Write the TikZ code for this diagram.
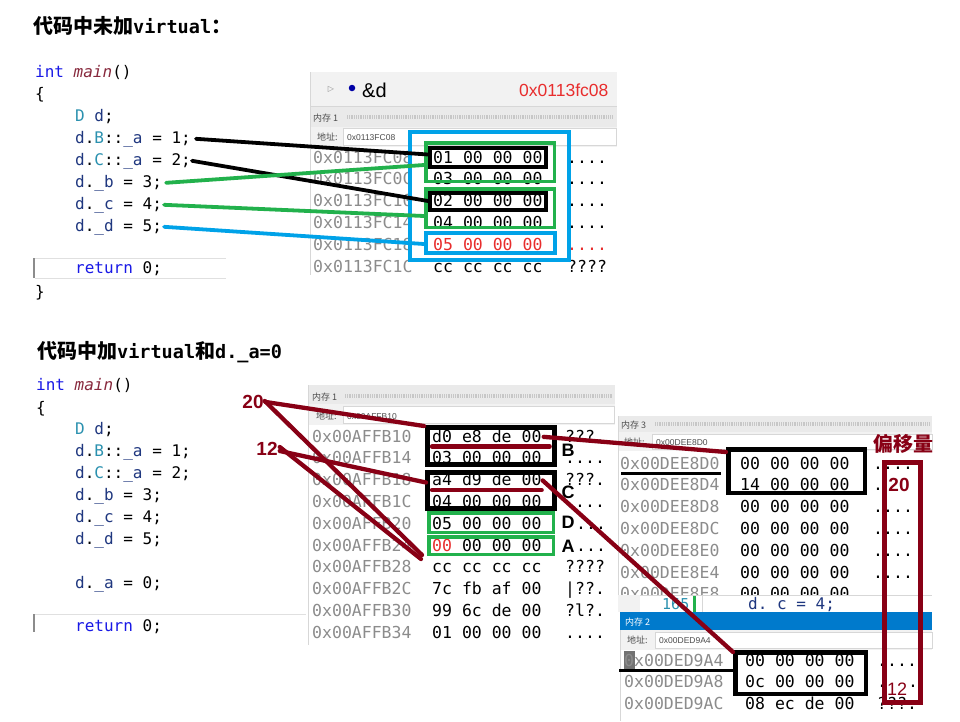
\documentclass[tikz,border=0pt]{standalone}
\usepackage{fontspec}
\setmainfont{Liberation Sans}
\setmonofont{DejaVu Sans Mono}
\newfontfamily\cjk{Noto Sans CJK SC}
\newfontfamily\symf{DejaVu Sans}
\usetikzlibrary{calc}
\definecolor{kw}{RGB}{25,25,230}
\definecolor{fn}{RGB}{135,40,60}
\definecolor{ty}{RGB}{43,145,175}
\definecolor{vr}{RGB}{31,55,127}
\definecolor{addr}{RGB}{140,140,140}
\definecolor{dred}{RGB}{136,0,21}
\definecolor{lgreen}{RGB}{34,177,76}
\definecolor{lblue}{RGB}{0,162,232}
\definecolor{memred}{RGB}{232,45,45}
\definecolor{titleblue}{RGB}{0,122,204}
\definecolor{panelgray}{RGB}{242,242,242}
\definecolor{bordergray}{RGB}{215,215,215}
\newcommand\cV[1]{\textcolor{vr}{#1}}
\newcommand\cT[1]{\textcolor{ty}{#1}}
\newcommand\cK[1]{\textcolor{kw}{#1}}
\newcommand\cF[1]{\textcolor{fn}{\itshape #1}}
\newcommand\redzero{\textcolor{memred}{00}}
\newcommand\qd{.{}.{}.{}.}
\newcommand\td{.{}.{}.}
\newcommand\hdmono{\ttfamily\bfseries\fontsize{18.5}{20}\selectfont}
\tikzset{
  heading/.style={anchor=base west, inner sep=0pt, font=\cjk\bfseries\fontsize{20}{20}\selectfont},
  code/.style={anchor=base west, inner sep=0pt, font=\ttfamily\fontsize{16}{16}\selectfont},
  memtxt/.style={anchor=base west, inner sep=0pt, font=\ttfamily\fontsize{16.5}{16.5}\selectfont},
  addrtxt/.style={memtxt, text=addr},
  uitxt/.style={anchor=base west, inner sep=0pt, font=\cjk\fontsize{9}{9}\selectfont, text=black!70},
  inputtxt/.style={anchor=base west, inner sep=0pt, font=\fontsize{8.5}{9}\selectfont, text=black!70},
  uibox/.style={draw=bordergray, fill=white, line width=0.6pt},
  hatch/.style={black!22, line width=4pt, dash pattern=on 0.6pt off 1.2pt},
  kbox/.style={draw=black, line width=4pt, inner sep=0pt},
  kboxthick/.style={draw=black, line width=5pt, inner sep=0pt},
  gbox/.style={draw=lgreen, line width=3.5pt, inner sep=0pt},
  bbox/.style={draw=lblue, line width=4pt, inner sep=0pt},
  rbox/.style={draw=dred, line width=5pt, inner sep=0pt},
  conn/.style={line width=3.8pt, line cap=round},
  rconn/.style={dred, line width=4.3pt, line cap=round},
  letter/.style={inner sep=0pt, font=\bfseries\fontsize{18}{18}\selectfont},
  rlabel/.style={inner sep=0pt, text=dred, font=\bfseries\fontsize{19}{19}\selectfont},
}
\begin{document}
\begin{tikzpicture}[x=1pt,y=-1pt]
\useasboundingbox (0,0) rectangle (960,721);
\fill[white] (0,0) rectangle (960,721);

% ---------------- top heading and code ----------------
\node[heading] (h1) at (33,33) {代码中未加{\hdmono virtual}：};
\draw[black!12, line width=0.8pt] (35,258) -- (226,258) (35,278.5) -- (226,278.5);
\draw[black!45, line width=1.6pt] (34,258) -- (34,278);
\node[code] (t0) at (35,77) {\cK{int} \cF{main}()};
\node[code] (t1) at (35,99) {\{};
\node[code] (t2) at (75,121) {\cT{D} \cV{d};};
\node[code] (t3) at (75,143) {\cV{d}.\cT{B}::\cV{\_a} = 1;};
\node[code] (t4) at (75,165) {\cV{d}.\cT{C}::\cV{\_a} = 2;};
\node[code] (t5) at (75,187) {\cV{d}.\cV{\_b} = 3;};
\node[code] (t6) at (75,209) {\cV{d}.\cV{\_c} = 4;};
\node[code] (t7) at (75,231) {\cV{d}.\cV{\_d} = 5;};
\node[code] (t8) at (75,273) {\cK{return} 0;};
\node[code] (t9) at (35,297) {\}};

% ---------------- top memory panel ----------------
\fill[white] (310,72) rectangle (617,275);
\fill[panelgray] (310,72) rectangle (617,106);
\draw[bordergray, line width=0.6pt] (310,106) -- (617,106);
\fill[panelgray!70!bordergray] (310,107) rectangle (617,127);
\fill[panelgray] (310,127) rectangle (617,147);
\draw[bordergray, line width=0.8pt] (310,72) -- (310,275);
\node[text=black!45, inner sep=0pt, font=\symf\fontsize{8}{8}\selectfont] (tri) at (331,89) {▷};
\node[circle, fill=blue!65!black, minimum size=6.5pt, inner sep=0pt] (dot) at (352,88) {};
\node[anchor=base west, inner sep=0pt, font=\fontsize{20}{20}\selectfont] (amp) at (362,97) {\&d};
\node[anchor=base west, inner sep=0pt, text=memred, font=\fontsize{17.5}{18}\selectfont] (dval) at (519,96) {0x0113fc08};
\node[uitxt] (m1t) at (313,121.5) {内存 1};
\draw[hatch] (347,117) -- (612,117);
\node[uitxt] (m1a) at (317,140) {地址:};
\draw[uibox] (343,128.5) rectangle (616,145.5);
\node[inputtxt] (m1v) at (347,140) {0x0113FC08};
\foreach \a/\b/\c/\col [count=\i from 0] in {
  0x0113FC08/01 00 00 00/\qd/black,
  0x0113FC0C/03 00 00 00/\qd/black,
  0x0113FC10/02 00 00 00/\qd/black,
  0x0113FC14/04 00 00 00/\qd/black,
  0x0113FC18/05 00 00 00/\qd/memred,
  0x0113FC1C/cc cc cc cc/????/black}{
  \node[addrtxt] (ta\i) at (313,163+21.9*\i) {\a};
  \node[memtxt, text=\col] (tb\i) at (433,163+21.9*\i) {\b};
  \node[memtxt, text=\col] (tc\i) at (567,163+21.9*\i) {\c};
}
% boxes top
\node[bbox, minimum width=159pt, minimum height=128pt] (bbig) at (489.5,196) {};
\node[gbox, minimum width=128.5pt, minimum height=38.5pt] (gb1) at (490,162) {};
\node[gbox, minimum width=128.5pt, minimum height=38.5pt] (gb2) at (490,208) {};
\node[kbox, minimum width=116pt, minimum height=19pt] (bk1) at (488,157.5) {};
\node[kbox, minimum width=116pt, minimum height=17pt] (bk2) at (488,201) {};
\node[bbox, minimum width=129pt, minimum height=20pt] (bsm) at (490.5,243) {};
% connectors top
\draw[conn, black] ([xshift=5pt]t3.east) -- ([yshift=3pt]bk1.west);
\draw[conn, black] ([xshift=1pt]t4.east) -- (bk2.west);
\draw[conn, lgreen] ([xshift=4pt]t5.east) -- ([yshift=-3pt]gb1.west);
\draw[conn, lgreen] ([xshift=2pt]t6.east) -- ([yshift=-8pt]gb2.west);
\draw[conn, lblue] ([xshift=2pt]t7.east) -- ([yshift=-1pt]bsm.west);

% ---------------- bottom heading and code ----------------
\node[heading] (h2) at (37,358) {代码中加{\hdmono virtual}和{\hdmono d.\_a=0}};
\draw[black!12, line width=0.8pt] (35,614) -- (306,614);
\draw[black!45, line width=1.6pt] (34,614) -- (34,632);
\node[code] (b0) at (36,390) {\cK{int} \cF{main}()};
\node[code] (b1) at (36,413) {\{};
\node[code] (b2) at (75,434) {\cT{D} \cV{d};};
\node[code] (b3) at (75,456) {\cV{d}.\cT{B}::\cV{\_a} = 1;};
\node[code] (b4) at (75,478) {\cV{d}.\cT{C}::\cV{\_a} = 2;};
\node[code] (b5) at (75,500) {\cV{d}.\cV{\_b} = 3;};
\node[code] (b6) at (75,522) {\cV{d}.\cV{\_c} = 4;};
\node[code] (b7) at (75,544) {\cV{d}.\cV{\_d} = 5;};
\node[code] (b8) at (75,588) {\cV{d}.\cV{\_a} = 0;};
\node[code] (b9) at (75,631) {\cK{return} 0;};

% ---------------- bottom memory panel 1 ----------------
\fill[white] (308,385) rectangle (615,645);
\fill[panelgray!70!bordergray] (308,385) rectangle (615,404);
\fill[panelgray] (308,404) rectangle (615,425);
\draw[bordergray, line width=0.8pt] (308,385) -- (308,645);
\node[uitxt] (n1t) at (312,400) {内存 1};
\draw[hatch] (345,396) -- (612,396);
\node[uitxt] (n1a) at (316,419) {地址:};
\draw[uibox] (343,406) rectangle (614,423);
\node[inputtxt] (n1v) at (347,419) {0x00AFFB10};
\foreach \a/\b/\c/\cx [count=\i from 0] in {
  0x00AFFB10/d0 e8 de 00/???./565,
  0x00AFFB14/03 00 00 00/\qd/565,
  0x00AFFB18/a4 d9 de 00/???./565,
  0x00AFFB1C/04 00 00 00/\qd/565,
  0x00AFFB20/05 00 00 00/\td/576,
  0x00AFFB24/\redzero{} 00 00 00/\td/576,
  0x00AFFB28/cc cc cc cc/????/565,
  0x00AFFB2C/7c fb af 00/|??./565,
  0x00AFFB30/99 6c de 00/?l?./565,
  0x00AFFB34/01 00 00 00/\qd/565}{
  \node[addrtxt] (ma\i) at (312,442+21.8*\i) {\a};
  \node[memtxt] (mb\i) at (432,442+21.8*\i) {\b};
  \node[memtxt] (mc\i) at (\cx,442+21.8*\i) {\c};
}
\node[kboxthick, minimum width=127pt, minimum height=37pt] (boxB) at (491,446) {};
\node[kboxthick, minimum width=127pt, minimum height=36pt] (boxC) at (491,490.5) {};
\node[gbox, minimum width=124.5pt, minimum height=19.5pt] (gD) at (491,522.5) {};
\node[gbox, minimum width=124.5pt, minimum height=17.5pt] (gA) at (491,545.5) {};
\node[letter] (lB) at (568,450.5) {B};
\node[letter] (lC) at (568,492) {C};
\node[letter] (lD) at (568,522) {D};
\node[letter] (lA) at (568,546) {A};
\draw[rconn] ($(mb0.base west)+(0,4.5)$) -- ($(mb0.base east)+(8,4.5)$);
\draw[rconn] ($(mb2.base west)+(0,4.5)$) -- ($(mb2.base east)+(0,4.5)$);

% ---------------- memory panel 3 ----------------
\fill[white] (618,416) rectangle (932,597);
\fill[panelgray!70!bordergray] (618,416) rectangle (932,432);
\fill[panelgray] (618,432) rectangle (932,451);
\draw[bordergray, line width=0.8pt] (618,416) -- (618,597);
\node[uitxt] (p3t) at (621,428) {内存 3};
\draw[hatch] (655,424) -- (930,424);
\node[uitxt] (p3a) at (624,445) {地址:};
\draw[uibox] (652,434) rectangle (932,449);
\node[inputtxt] (p3v) at (656,445) {0x00DEE8D0};
\begin{scope}
\clip (618,451) rectangle (932,595);
\foreach \a/\b/\c [count=\i from 0] in {
  0x00DEE8D0/00 00 00 00/\qd, 0x00DEE8D4/14 00 00 00/., 0x00DEE8D8/00 00 00 00/\qd,
  0x00DEE8DC/00 00 00 00/\qd, 0x00DEE8E0/00 00 00 00/\qd, 0x00DEE8E4/00 00 00 00/\qd,
  0x00DEE8E8/00 00 00 00/\qd}{
  \node[addrtxt] (ea\i) at (620,469+21.8*\i) {\a};
  \node[memtxt] (eb\i) at (740,469+21.8*\i) {\b};
  \node[memtxt] (ec\i) at (873,469+21.8*\i) {\c};
}
\end{scope}
\draw[black, line width=3pt] (621,473.5) -- (721,473.5);
\node[draw=black, line width=4.5pt, inner sep=0pt, minimum width=136.5pt, minimum height=43.5pt] (bx3) at (796.5,471) {};

% ---------------- editor strip ----------------
\begin{scope}
\clip (618,595) rectangle (932,612);
\fill[white] (618,595) rectangle (932,612);
\draw[bordergray, line width=0.8pt] (618,595.5) -- (932,595.5);
\fill[panelgray] (618,595) rectangle (640,612);
\node[code, text=ty, font=\ttfamily\fontsize{15}{15}\selectfont] (ln) at (662,609.5) {165};
\fill[lgreen] (693,596) rectangle (696,612);
\draw[bordergray, line width=0.8pt] (702,595) -- (702,612);
\node[code, text=vr] (lc) at (748,609.5) {d. c = 4;};
\end{scope}

% ---------------- memory panel 2 ----------------
\fill[white] (620,612) rectangle (932,721);
\fill[titleblue] (620,612) rectangle (932,630);
\node[uitxt, text=white] (p2t) at (625,625.5) {内存 2};
\fill[panelgray] (620,630) rectangle (932,650);
\draw[bordergray, line width=0.8pt] (620,630) -- (620,721);
\node[uitxt] (p2a) at (627,643) {地址:};
\draw[uibox] (655,632) rectangle (932,648);
\node[inputtxt] (p2v) at (659,643) {0x00DED9A4};
\fill[black!55] (623.5,651) rectangle (634.5,669);
\foreach \a/\b/\c [count=\i from 0] in {
  0x00DED9A4/00 00 00 00/\qd, 0x00DED9A8/0c 00 00 00/., 0x00DED9AC/08 ec de 00/???.}{
  \node[addrtxt] (fa\i) at (624,666+21.8*\i) {\a};
  \node[memtxt] (fb\i) at (745,666+21.8*\i) {\b};
  \node[memtxt] (fc\i) at (877,666+21.8*\i) {\c};
}
\node[memtxt] (fd1) at (908,687.8) {.};
\draw[black, line width=3pt] (619,670.5) -- (738,670.5);
\node[draw=black, line width=4.5pt, inner sep=0pt, minimum width=130.5pt, minimum height=41.5pt] (bx2) at (800.5,673) {};

% ---------------- offsets ----------------
\node[inner sep=0pt, text=dred, font=\cjk\bfseries\fontsize{20}{20}\selectfont] (pyl) at (903,444) {偏移量};
\node[rbox, minimum width=36pt, minimum height=240pt] (tall) at (902.5,582.5) {};
\node[rlabel] (o20) at (899,485) {20};
\node[inner sep=0pt, text=dred, font=\fontsize{18}{18}\selectfont] (o12) at (897,689.5) {12};

% ---------------- red connectors ----------------
\node[rlabel] (n20) at (253,402) {20};
\node[rlabel] (n12) at (267,449) {12};
\draw[rconn] ([xshift=2pt]n20.east) -- ([xshift=-1pt,yshift=-1pt]boxB.north west);
\draw[rconn] ([xshift=1pt,yshift=1pt]n20.east) -- ([xshift=-5pt,yshift=1pt]gA.south west);
\draw[rconn] ([xshift=2pt,yshift=-2pt]n12.east) -- ([xshift=1pt,yshift=8pt]boxC.west);
\draw[rconn] ([xshift=2pt,yshift=2pt]n12.east) -- ([xshift=-6pt,yshift=-3pt]gA.south west);
\draw[rconn] ([xshift=2pt,yshift=-1pt]mb0.east) -- ([yshift=-5pt]bx3.north west);
\draw[rconn] ([xshift=1pt,yshift=-1pt]mb2.east) -- ([yshift=-2pt]bx2.north west);
\end{tikzpicture}
\end{document}
